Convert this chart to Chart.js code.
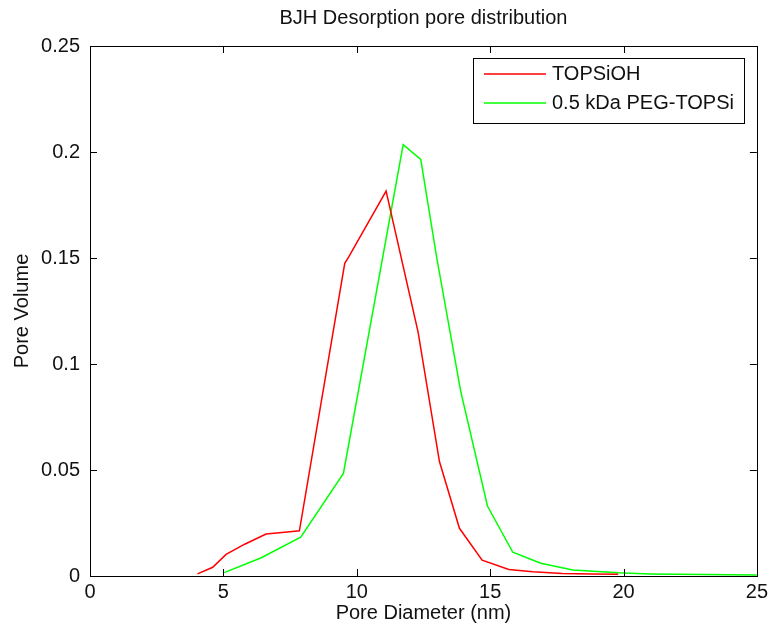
<!DOCTYPE html>
<html>
<head>
<meta charset="utf-8">
<title>BJH Desorption pore distribution</title>
<script src="https://cdn.jsdelivr.net/npm/chart.js@4.4.1/dist/chart.umd.min.js"></script>
<style>
  html, body { margin: 0; padding: 0; background: #fff; }
  #wrap { width: 772px; height: 630px; }
</style>
</head>
<body>
<div id="wrap"><canvas id="poreChart" width="772" height="630"></canvas></div>
<script>
// series
const seriesNames = ['TOPSiOH', '0.5 kDa PEG-TOPSi'];

const topsiohDiameter = [4.03, 4.6, 5.1, 5.8, 6.6, 7.4, 7.85, 9.55, 9.7, 11.1, 12.3, 13.1, 13.85, 14.7, 15.7, 16.6, 17.7, 18.8, 19.8];
const topsiohVolume = [0.001, 0.0041, 0.0102, 0.0150, 0.0198, 0.0208, 0.0213, 0.1475, 0.1505, 0.1816, 0.115, 0.054, 0.0225, 0.0075, 0.0031, 0.0020, 0.0012, 0.0010, 0.0008];

const pegDiameter = [5.03, 6.4, 7.9, 9.5, 11.74, 12.4, 13.0, 13.9, 14.9, 15.85, 16.9, 18.1, 19.8, 21, 23, 25];
const pegVolume = [0.0016, 0.0085, 0.0183, 0.0484, 0.2035, 0.1965, 0.150, 0.087, 0.033, 0.0112, 0.0060, 0.0028, 0.0015, 0.0010, 0.0007, 0.0005];

const xTicks = [0, 5, 10, 15, 20, 25];
const yTicks = [0, 0.05, 0.1, 0.15, 0.2, 0.25];

const FONT = '"Liberation Sans", Arial, Helvetica, sans-serif';
const TEXT = '#111';
const FS = 20;

function toPoints(xs, ys) {
  return xs.map((x, i) => ({ x: x, y: ys[i] }));
}

// matlab style box: frame plus inward ticks on all four sides
const boxPlugin = {
  id: 'matlabBox',
  afterDatasetsDraw(chart) {
    const { ctx, chartArea: a, scales } = chart;
    const len = 7;
    ctx.save();
    ctx.strokeStyle = '#000';
    ctx.lineWidth = 1;
    ctx.strokeRect(Math.round(a.left) + 0.5, Math.round(a.top) + 0.5,
      Math.round(a.right - a.left), Math.round(a.bottom - a.top));
    ctx.beginPath();
    xTicks.forEach(v => {
      const px = Math.round(scales.x.getPixelForValue(v)) + 0.5;
      ctx.moveTo(px, a.bottom); ctx.lineTo(px, a.bottom - len);
      ctx.moveTo(px, a.top); ctx.lineTo(px, a.top + len);
    });
    yTicks.forEach(v => {
      const py = Math.round(scales.y.getPixelForValue(v)) + 0.5;
      ctx.moveTo(a.left, py); ctx.lineTo(a.left + len, py);
      ctx.moveTo(a.right, py); ctx.lineTo(a.right - len, py);
    });
    ctx.stroke();
    ctx.restore();
  }
};

// legend box drawn inside the axes, top right
const legendBoxPlugin = {
  id: 'insideLegend',
  afterDraw(chart) {
    const { ctx, chartArea: a } = chart;
    const sets = chart.data.datasets;
    ctx.save();
    ctx.font = FS + 'px ' + FONT;
    const textW = Math.max(...sets.map(d => ctx.measureText(d.label).width));
    const lineLen = 62, padL = 11, gap = 6, padR = 10, rowH = 29;
    const w = Math.round(padL + lineLen + gap + textW + padR);
    const h = 65;
    const right = Math.round(a.right) - 13;
    const top = Math.round(a.top) + 12;
    const left = right - w;
    ctx.fillStyle = '#fff';
    ctx.fillRect(left, top, w, h);
    ctx.strokeStyle = '#000';
    ctx.lineWidth = 1;
    ctx.strokeRect(left + 0.5, top + 0.5, w, h);
    sets.forEach((d, i) => {
      const y = top + 16 + i * rowH;
      ctx.strokeStyle = d.borderColor;
      ctx.lineWidth = 1.5;
      ctx.beginPath();
      ctx.moveTo(left + padL, y);
      ctx.lineTo(left + padL + lineLen, y);
      ctx.stroke();
      ctx.fillStyle = TEXT;
      ctx.textBaseline = 'middle';
      ctx.textAlign = 'left';
      ctx.fillText(d.label, left + padL + lineLen + gap, y);
    });
    ctx.restore();
  }
};

function drawChart() {
  const ctx = document.getElementById('poreChart').getContext('2d');
  return new Chart(ctx, {
    type: 'line',
    data: {
      datasets: [{
        label: seriesNames[0],
        data: toPoints(topsiohDiameter, topsiohVolume),
        borderColor: '#ff0000',
        borderWidth: 1.5,
        pointRadius: 0,
        fill: false,
        tension: 0
      }, {
        label: seriesNames[1],
        data: toPoints(pegDiameter, pegVolume),
        borderColor: '#00ff00',
        borderWidth: 1.5,
        pointRadius: 0,
        fill: false,
        tension: 0
      }]
    },
    options: {
      responsive: false,
      animation: false,
      layout: { padding: { left: 0, right: 11, top: 0, bottom: 0 } },
      plugins: {
        legend: { display: false },
        tooltip: { enabled: false },
        title: {
          display: true,
          fullSize: false, // centre over the axes, like matlab
          text: 'BJH Desorption pore distribution',
          color: TEXT,
          font: { family: FONT, size: FS, weight: 'normal' },
          padding: { top: 6, bottom: 16 }
        }
      },
      scales: {
        x: {
          type: 'linear',
          min: 0,
          max: 25,
          afterBuildTicks: s => { s.ticks = xTicks.map(v => ({ value: v })); },
          afterFit: s => { s.height = 54; },
          grid: { display: false, drawTicks: false },
          border: { display: false },
          ticks: {
            color: TEXT,
            padding: 4,
            maxRotation: 0,
            font: { family: FONT, size: FS }
          },
          title: {
            display: true,
            text: 'Pore Diameter (nm)',
            color: TEXT,
            font: { family: FONT, size: FS },
            padding: { top: 0, bottom: 5 }
          }
        },
        y: {
          type: 'linear',
          min: 0,
          max: 0.25,
          afterBuildTicks: s => { s.ticks = yTicks.map(v => ({ value: v })); },
          afterFit: s => { s.width = 90; },
          grid: { display: false, drawTicks: false },
          border: { display: false },
          ticks: {
            color: TEXT,
            padding: 10,
            font: { family: FONT, size: FS },
            callback: v => String(Number(v.toFixed(2)))
          },
          title: {
            display: true,
            text: 'Pore Volume',
            color: TEXT,
            font: { family: FONT, size: FS },
            padding: { top: 10, bottom: 0 }
          }
        }
      }
    },
    plugins: [boxPlugin, legendBoxPlugin]
  });
}

drawChart();
</script>
</body>
</html>
